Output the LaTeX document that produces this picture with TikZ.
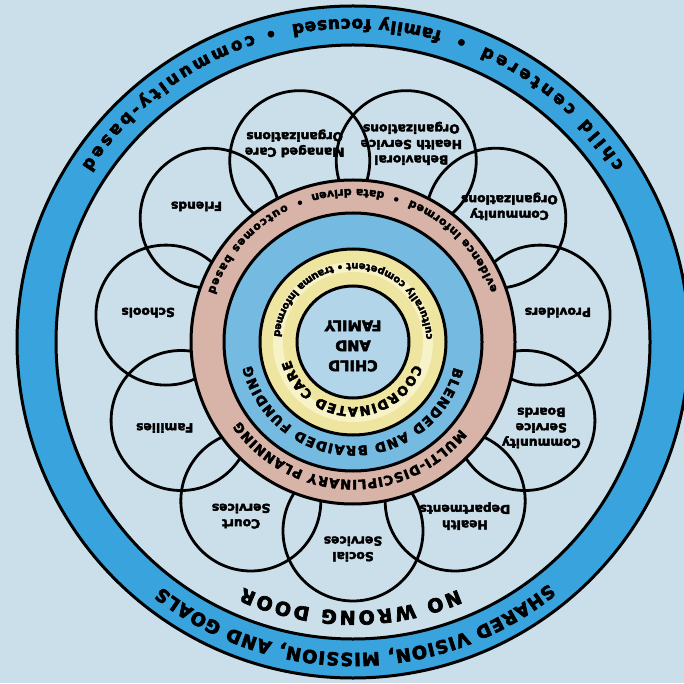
\documentclass[tikz,border=0pt]{standalone}
\usepackage{fontspec}
\setmainfont{DejaVu Sans}[BoldFeatures={FakeBold=3.5}]
\usetikzlibrary{decorations.text}
\definecolor{bg}{RGB}{203,223,235}
\definecolor{ringblue}{RGB}{56,163,220}
\definecolor{pinkring}{RGB}{215,179,168}
\definecolor{midblue}{RGB}{116,186,225}
\definecolor{yellowring}{RGB}{238,229,160}
\definecolor{yellowpale}{RGB}{247,242,200}
\definecolor{corefill}{RGB}{178,213,234}
% #1 radius, #2 start angle, #3 end angle, #4 font size, #5 text
\newcommand\arctext[5]{%
  \path[decorate,decoration={text along path,text align={fit to path},
    text={|\fontsize{#4}{#4}\selectfont\bfseries|#5}}]
    ([shift={(#2:#1pt)}]C) arc[start angle=#2,end angle=#3,radius=#1pt];}
\tikzset{
  ringline/.style={draw=black,line width=3pt},
  petal/.style={circle,draw=black,line width=2.8pt,minimum size=140pt,inner sep=0pt},
  plabel/.style={rotate=180,align=center,inner sep=0pt,
    font=\fontsize{12.3}{15.5}\selectfont\bfseries},
  bullet/.style={inner sep=0pt}
}
\begin{document}
\begin{tikzpicture}[x=1pt,y=1pt]
\useasboundingbox (0,0) rectangle (684,683);
\clip (0,0) rectangle (684,683);
\fill[bg] (0,0) rectangle (684,683);
\coordinate (C) at (353,341);
% outer ring
\fill[ringblue,even odd rule] (C) circle[radius=336pt] (C) circle[radius=297pt];
\draw[ringline] (C) circle[radius=336pt];
\draw[ringline] (C) circle[radius=297pt];
% petals
\foreach \k in {0,...,10}{
  \pgfmathsetmacro\a{-90+\k*360/11}
  \node[petal] (p\k) at ([shift={(\a:189pt)}]C) {};
}
% inner rings
\filldraw[ringline,fill=pinkring] (C) circle[radius=162pt];
\filldraw[ringline,fill=midblue] (C) circle[radius=129pt];
\filldraw[ringline,fill=yellowring] (C) circle[radius=93pt];
\fill[yellowpale] (C) circle[radius=80pt];
\fill[yellowring] (C) circle[radius=70pt];
\filldraw[ringline,fill=corefill] (C) circle[radius=56pt];
% petal labels
\foreach \k/\t in {0/{Social\\Services},1/{Health\\Departments},
  2/{Community\\Service\\Boards},3/{Providers},4/{Community\\Organizations},
  5/{Behavioral\\Health Service\\Organizations},6/{Managed Care\\Organizations},
  7/{Friends},8/{Schools},9/{Families},10/{Court\\Services}}{
  \pgfmathsetmacro\a{-90+\k*360/11}
  \node[plabel] (l\k) at ([shift={(\a:207pt)}]C) {\t};
}
% outer ring texts
\arctext{311}{-51}{-128}{18}{SHARED VISION, MISSION, AND GOALS}
\arctext{323}{33}{66}{17}{child centered}
\arctext{323}{74}{101}{17}{family focused}
\arctext{323}{108}{147}{17}{community-based}
\node[bullet,font=\fontsize{17}{17}\selectfont\bfseries] (b1) at ([shift={(70:317pt)}]C) {•};
\node[bullet,font=\fontsize{17}{17}\selectfont\bfseries] (b2) at ([shift={(105:317pt)}]C) {•};
% no wrong door
\arctext{269}{-67}{-114}{19}{NO WRONG DOOR}
% pink ring
\arctext{138}{-39}{-145}{13}{MULTI-DISCIPLINARY PLANNING}
\arctext{153}{19.6}{68}{11}{evidence informed}
\arctext{153}{78}{106}{11}{data driven}
\arctext{153}{116}{161}{11}{outcomes based}
\node[bullet,font=\fontsize{11}{11}\selectfont\bfseries] (b3) at ([shift={(73:148pt)}]C) {•};
\node[bullet,font=\fontsize{11}{11}\selectfont\bfseries] (b4) at ([shift={(111:148pt)}]C) {•};
% blue ring
\arctext{104}{-14}{-167}{13.2}{BLENDED AND BRAIDED FUNDING}
% yellow ring
\arctext{65}{-20}{-164}{13}{COORDINATED CARE}
\arctext{79}{2}{95}{10}{culturally competent}
\arctext{79}{105}{176}{10}{trauma informed}
\node[bullet,font=\fontsize{10}{10}\selectfont\bfseries] (b5) at ([shift={(100:75pt)}]C) {•};
% core
\node[rotate=180,align=center,inner sep=0pt,font=\fontsize{14.5}{20}\selectfont\bfseries]
  (core) at ([yshift=-4pt]C) {CHILD\\AND\\FAMILY};
\end{tikzpicture}
\end{document}
